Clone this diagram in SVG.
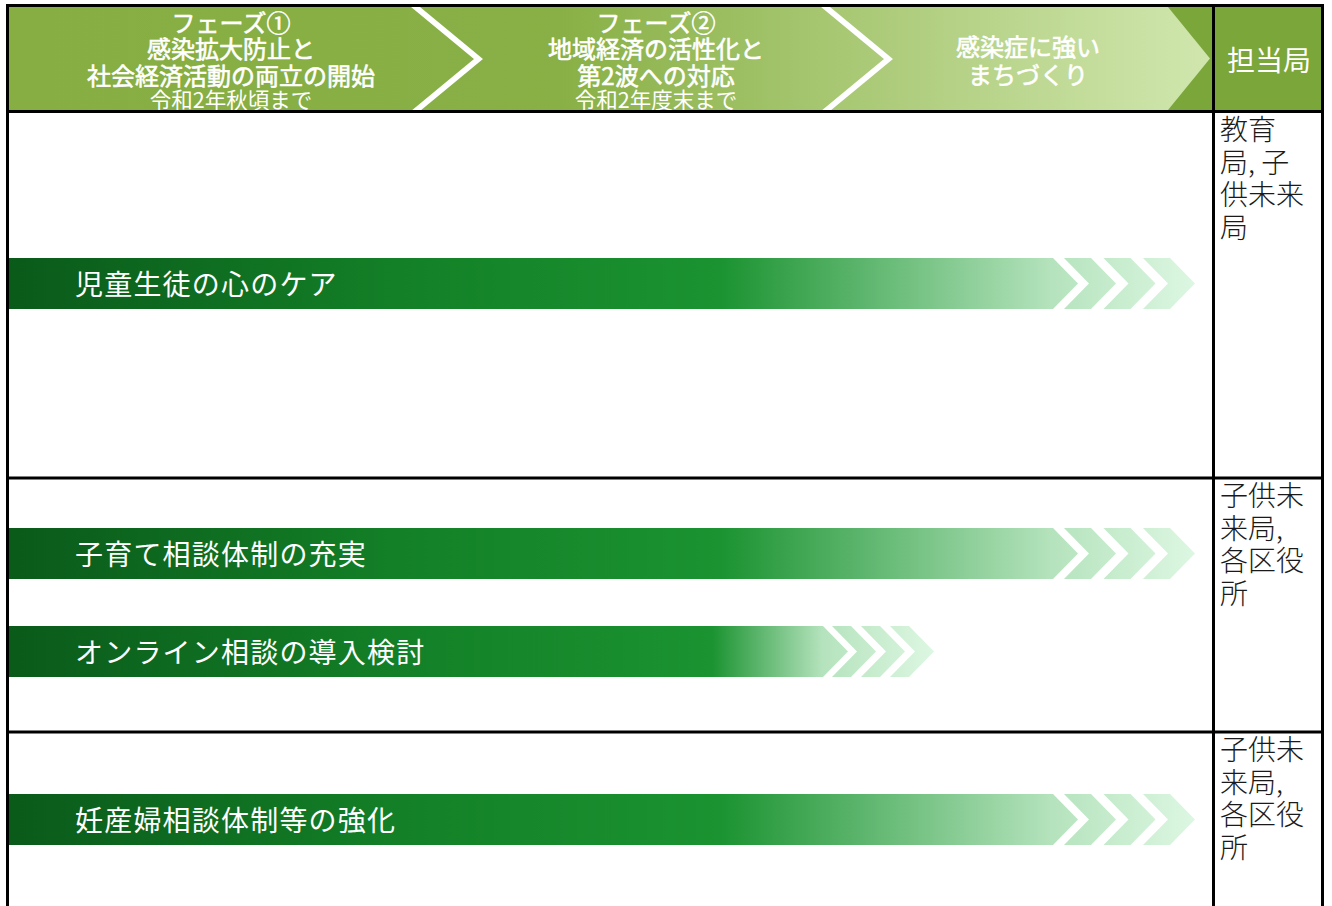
<svg xmlns="http://www.w3.org/2000/svg" width="1332" height="906" viewBox="0 0 1332 906">
<style>
  .hd { font-family: "Noto Sans CJK JP", "Noto Sans", sans-serif; fill: #ffffff; text-anchor: middle; }
  .hdb { font-size: 24px; font-weight: normal; stroke: #ffffff; stroke-width: 0.6px; }
  .hds { font-size: 21.5px; font-weight: normal; stroke: none; }
  .bar { font-family: "Noto Sans CJK JP", "Noto Sans", sans-serif; fill: #ffffff; font-size: 28px; letter-spacing: 1.2px; }
  .dept { font-family: "Noto Sans CJK JP", "Noto Sans", sans-serif; fill: #1a1a1a; font-size: 28px; font-weight: 300; }
  .border { stroke: #000000; stroke-width: 3; fill: none; }
  .chev { stroke: #ffffff; stroke-width: 5.7; fill: none; stroke-linejoin: miter; stroke-miterlimit: 10; }
</style>
<defs>
  <linearGradient id="hdrGrad" gradientUnits="userSpaceOnUse" x1="9" y1="0" x2="1210" y2="0">
    <stop offset="0" stop-color="#86AE42"/>
    <stop offset="0.46" stop-color="#89B046"/>
    <stop offset="0.97" stop-color="#CDE4A9"/>
    <stop offset="1" stop-color="#CFE5AC"/>
  </linearGradient>
  <linearGradient id="barLong" gradientUnits="userSpaceOnUse" x1="9" y1="0" x2="1195" y2="0">
    <stop offset="0" stop-color="#0A5A1A"/>
    <stop offset="0.33" stop-color="#138027"/>
    <stop offset="0.6" stop-color="#1B9331"/>
    <stop offset="0.88" stop-color="#B5E3BD"/>
    <stop offset="1" stop-color="#DDF7E2"/>
  </linearGradient>
  <linearGradient id="barShort" gradientUnits="userSpaceOnUse" x1="9" y1="0" x2="934" y2="0">
    <stop offset="0" stop-color="#0A5A1A"/>
    <stop offset="0.424" stop-color="#138027"/>
    <stop offset="0.76" stop-color="#1B9331"/>
    <stop offset="0.88" stop-color="#B5E3BD"/>
    <stop offset="1" stop-color="#DDF7E2"/>
  </linearGradient>
  <clipPath id="hdrClip">
    <rect x="9" y="7" width="1204" height="103"/>
  </clipPath>
</defs>

<rect x="0" y="0" width="1332" height="906" fill="#ffffff"/>

<g id="header">
  <rect x="9" y="7" width="1204" height="103" fill="#7AA63A"/>
  <polygon points="9,7 1168,7 1210,58.5 1168,110 9,110" fill="url(#hdrGrad)"/>
  <g clip-path="url(#hdrClip)">
    <polyline class="chev" points="410.7,3 478.5,59 410.7,115"/>
    <polyline class="chev" points="820.7,3 888.5,59 820.7,115"/>
  </g>
  <g id="phase1">
    <text class="hd hdb" x="231" y="32">フェーズ①<tspan x="231" dy="26">感染拡大防止と</tspan><tspan x="231" dy="27">社会経済活動の両立の開始</tspan><tspan class="hds" x="231" dy="23">令和2年秋頃まで</tspan></text>
  </g>
  <g id="phase2">
    <text class="hd hdb" x="656" y="32">フェーズ②<tspan x="656" dy="26">地域経済の活性化と</tspan><tspan x="656" dy="27">第2波への対応</tspan><tspan class="hds" x="656" dy="23">令和2年度末まで</tspan></text>
  </g>
  <g id="phase3">
    <text class="hd hdb" x="1028" y="56">感染症に強い<tspan x="1028" dy="28">まちづくり</tspan></text>
  </g>
  <g id="dept-header">
    <rect x="1215" y="7" width="106" height="103" fill="#7AA63A"/>
    <text class="hd" x="1269" y="71" font-size="28">担当局</text>
  </g>
</g>

<g id="bar-kokoro-care">
  <path d="M9,258 H1053 L1078,283.5 L1053,309 H9 Z" fill="url(#barLong)"/>
  <path d="M1064,258 h27 l25,25.5 l-25,25.5 h-27 l25,-25.5 Z M1103.5,258 h27 l25,25.5 l-25,25.5 h-27 l25,-25.5 Z M1143,258 h27 l25,25.5 l-25,25.5 h-27 l25,-25.5 Z" fill="url(#barLong)"/>
  <text class="bar" x="75" y="295">児童生徒の心のケア</text>
</g>
<g id="dept-1">
  <text class="dept" x="1220" y="140">教育<tspan x="1220" dy="32.5">局, 子</tspan><tspan x="1220" dy="32.5">供未来</tspan><tspan x="1220" dy="32.5">局</tspan></text>
</g>

<g id="bar-kosodate">
  <path d="M9,528 H1053 L1078,553.5 L1053,579 H9 Z" fill="url(#barLong)"/>
  <path d="M1064,528 h27 l25,25.5 l-25,25.5 h-27 l25,-25.5 Z M1103.5,528 h27 l25,25.5 l-25,25.5 h-27 l25,-25.5 Z M1143,528 h27 l25,25.5 l-25,25.5 h-27 l25,-25.5 Z" fill="url(#barLong)"/>
  <text class="bar" x="75" y="565">子育て相談体制の充実</text>
</g>
<g id="bar-online">
  <path d="M9,626 H823 L848,651.5 L823,677 H9 Z" fill="url(#barShort)"/>
  <path d="M832,626 h19 l25,25.5 l-25,25.5 h-19 l25,-25.5 Z M861,626 h19 l25,25.5 l-25,25.5 h-19 l25,-25.5 Z M890,626 h19 l25,25.5 l-25,25.5 h-19 l25,-25.5 Z" fill="url(#barShort)"/>
  <text class="bar" x="75" y="663">オンライン相談の導入検討</text>
</g>
<g id="dept-2">
  <text class="dept" x="1220" y="506">子供未<tspan x="1220" dy="32.5">来局,</tspan><tspan x="1220" dy="32.5">各区役</tspan><tspan x="1220" dy="32.5">所</tspan></text>
</g>

<g id="bar-ninsanpu">
  <path d="M9,794 H1053 L1078,819.5 L1053,845 H9 Z" fill="url(#barLong)"/>
  <path d="M1064,794 h27 l25,25.5 l-25,25.5 h-27 l25,-25.5 Z M1103.5,794 h27 l25,25.5 l-25,25.5 h-27 l25,-25.5 Z M1143,794 h27 l25,25.5 l-25,25.5 h-27 l25,-25.5 Z" fill="url(#barLong)"/>
  <text class="bar" x="75" y="831">妊産婦相談体制等の強化</text>
</g>
<g id="dept-3">
  <text class="dept" x="1220" y="760">子供未<tspan x="1220" dy="32.5">来局,</tspan><tspan x="1220" dy="32.5">各区役</tspan><tspan x="1220" dy="32.5">所</tspan></text>
</g>

<g id="grid">
  <line class="border" x1="6" y1="5.5" x2="1324" y2="5.5"/>
  <line class="border" x1="6" y1="111.5" x2="1324" y2="111.5"/>
  <line class="border" x1="6" y1="478" x2="1324" y2="478"/>
  <line class="border" x1="6" y1="732" x2="1324" y2="732"/>
  <line class="border" x1="7.5" y1="4" x2="7.5" y2="906"/>
  <line class="border" x1="1213.5" y1="4" x2="1213.5" y2="906"/>
  <line class="border" x1="1322.5" y1="4" x2="1322.5" y2="906"/>
</g>
</svg>
